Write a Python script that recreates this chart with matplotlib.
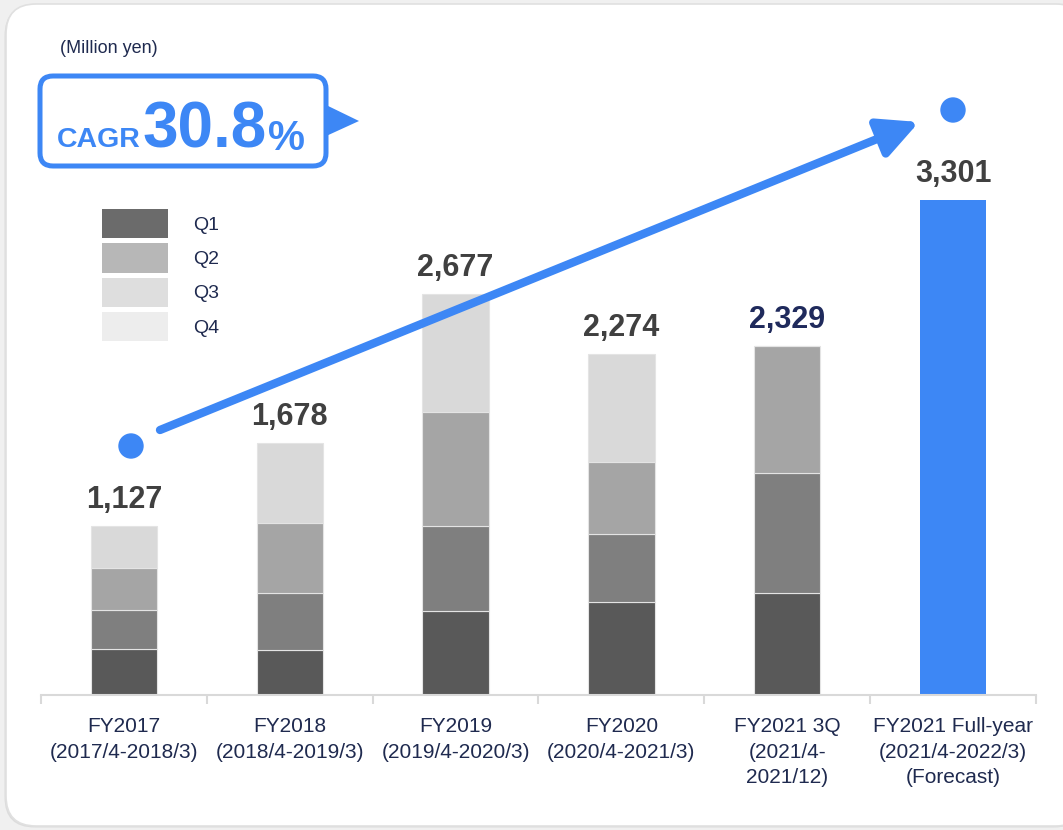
import matplotlib.pyplot as plt
from matplotlib.patches import FancyBboxPatch, FancyArrowPatch, Polygon, Circle, Patch

plt.rcParams['font.family'] = ['Liberation Sans', 'DejaVu Sans']

# 売上高（百万円）四半期別
categories = ['FY2017\n(2017/4-2018/3)', 'FY2018\n(2018/4-2019/3)', 'FY2019\n(2019/4-2020/3)',
              'FY2020\n(2020/4-2021/3)', 'FY2021 3Q\n(2021/4-\n2021/12)',
              'FY2021 Full-year\n(2021/4-2022/3)\n(Forecast)']
q1 = [306, 303, 557, 618, 678]
q2 = [258, 375, 567, 455, 801]
q3 = [284, 466, 763, 478, 850]
q4 = [279, 534, 790, 723, 0]
forecast = 3301
quarter_names = ['Q1', 'Q2', 'Q3', 'Q4']
cagr = 30.8

blue = '#3d87f5'
navy = '#1f2a4f'
bar_colors = ['#595959', '#7f7f7f', '#a5a5a5', '#d9d9d9']
legend_colors = ['#6b6b6b', '#b7b7b7', '#dedede', '#ededed']
label_colors = ['#404040', '#404040', '#404040', '#404040', '#1f2a5c', '#404040']

fig = plt.figure(figsize=(10.63, 8.30), dpi=100, facecolor='#f0f0f0')
inch = fig.dpi_scale_trans

# カード背景
shadow = FancyBboxPatch((0.045, 0.025), 10.8, 8.22, boxstyle='round,pad=0,rounding_size=0.3',
                        fc='#dcdcdc', ec='none', transform=inch, zorder=-3)
card = FancyBboxPatch((0.06, 0.04), 10.8, 8.22, boxstyle='round,pad=0,rounding_size=0.3',
                      fc='white', ec='#e0e0e0', lw=1.2, transform=inch, zorder=-2)
fig.add_artist(shadow)
fig.add_artist(card)

ax = fig.add_axes([41 / 1063, 135 / 830, 995 / 1063, 595 / 830])
ax.set_facecolor('none')

x = list(range(len(categories)))
quarters = [q1, q2, q3, q4]
bottom = [0] * len(q1)
for vals, c in zip(quarters, bar_colors):
    ax.bar(x[:5], vals, width=0.4, bottom=bottom, color=c, edgecolor='#e4e4e4', linewidth=0.8)
    bottom = [b + v for b, v in zip(bottom, vals)]
ax.bar(x[5], forecast, width=0.4, color=blue)

totals = bottom + [forecast]
for xi, t, c in zip(x, totals, label_colors):
    ax.annotate(f'{t:,}', (xi, t), xytext=(0, 13), textcoords='offset points',
                ha='center', va='baseline', fontsize=22, fontweight='bold', color=c)

ax.set_xlim(-0.5, 5.5)
ax.set_ylim(0, 3968)
ax.set_yticks([])
for s in ['left', 'right', 'top']:
    ax.spines[s].set_visible(False)
ax.spines['bottom'].set_color('#d9d9d9')
ax.spines['bottom'].set_linewidth(1.5)
ax.set_xticks(x)
ax.set_xticklabels(categories, fontsize=15, color=navy, linespacing=1.42)
ax.tick_params(axis='x', which='major', length=0, pad=16)
ax.set_xticks([i - 0.5 for i in range(len(categories) + 1)], minor=True)
ax.tick_params(axis='x', which='minor', length=6.5, width=1.5, color='#d9d9d9')

# 凡例
handles = [Patch(facecolor=c, edgecolor='none', label=n) for c, n in zip(legend_colors, quarter_names)]
ax.legend(handles=handles, loc='upper left', bbox_to_anchor=(1.02, 6.21), bbox_transform=inch,
          frameon=False, fontsize=14, labelcolor=navy, handlelength=3.4, handleheight=1.95,
          labelspacing=0.25, handletextpad=1.29, borderpad=0, borderaxespad=0)

# 成長トレンドの矢印
fig.add_artist(Circle((1.31, 3.84), 0.12, color=blue, transform=inch, zorder=5))
fig.add_artist(Circle((9.53, 7.20), 0.12, color=blue, transform=inch, zorder=5))
arrow = FancyArrowPatch((1.60, 4.00), (9.19, 7.08), arrowstyle='-|>,head_length=1.2,head_width=0.6',
                        mutation_scale=20, lw=6, color=blue, transform=inch, zorder=5,
                        shrinkA=0, shrinkB=0)
fig.add_artist(arrow)

# CAGR 吹き出し
box = FancyBboxPatch((0.40, 6.64), 2.86, 0.90, boxstyle='round,pad=0,rounding_size=0.13',
                     fc='white', ec=blue, lw=3.6, transform=inch, zorder=5)
fig.add_artist(box)
fig.add_artist(Polygon([(3.24, 7.26), (3.59, 7.09), (3.24, 6.93)], closed=True, fc=blue, ec='none',
                       transform=inch, zorder=5))
fig.text(0.57, 6.83, 'CAGR', transform=inch, fontsize=20.5, fontweight='bold', color=blue,
         ha='left', va='baseline', zorder=6)
fig.text(1.42, 6.83, f'{cagr}', transform=inch, fontsize=46, fontweight='bold', color=blue,
         ha='left', va='baseline', zorder=6)
fig.text(2.68, 6.80, '%', transform=inch, fontsize=30, fontweight='bold', color=blue,
         ha='left', va='baseline', zorder=6)

fig.text(0.60, 7.77, '(Million yen)', transform=inch, fontsize=13, color=navy, ha='left', va='baseline')

fig.savefig('out.png', dpi=100)
